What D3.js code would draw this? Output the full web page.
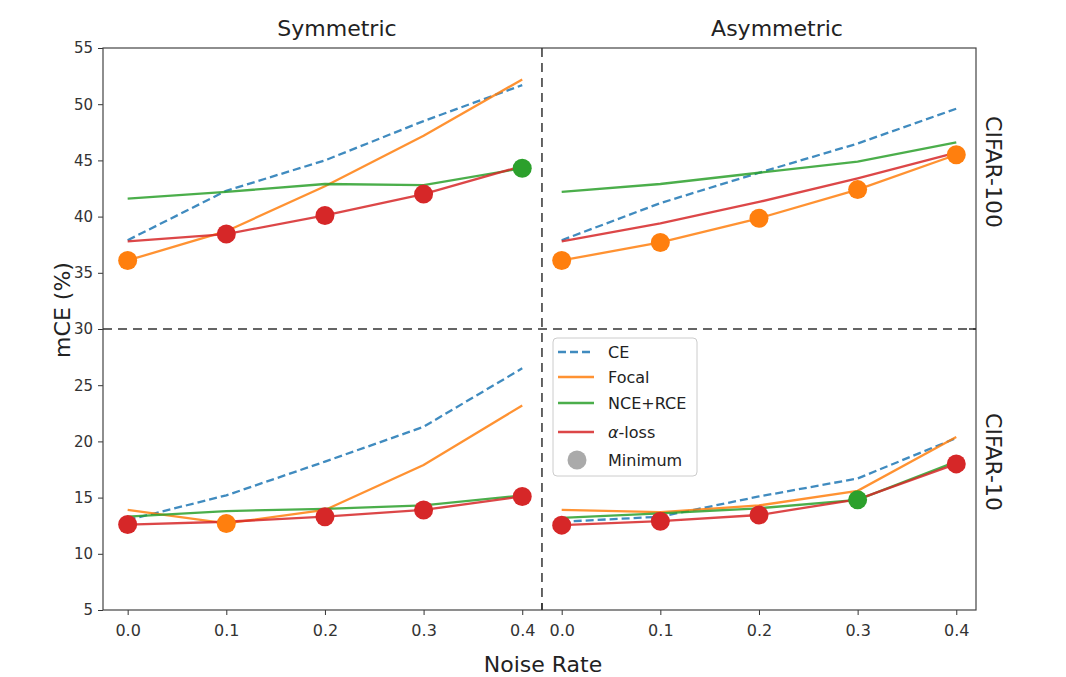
<!DOCTYPE html>
<html>
<head>
<meta charset="utf-8">
<script src="https://cdn.jsdelivr.net/npm/d3@7"></script>
<style>
  body { margin: 0; background: #fff; }
  svg { font-family: "DejaVu Sans", sans-serif; }
</style>
</head>
<body>
<svg id="chart" width="1066" height="677"></svg>
<script>
// noise rates shown on each half of the x axis
var noiseRates = [0.0, 0.1, 0.2, 0.3, 0.4];
var lossNames = ["CE", "Focal", "NCE+RCE", "alpha"];
var yTicks = [5, 10, 15, 20, 25, 30, 35, 40, 45, 50, 55];

// CIFAR-100, symmetric noise
var ceSym100    = [37.9, 42.3, 45.0, 48.5, 51.7];
var focalSym100 = [36.1, 38.7, 42.7, 47.2, 52.2];
var nceSym100   = [41.6, 42.2, 42.9, 42.8, 44.3];
var alphaSym100 = [37.8, 38.45, 40.1, 42.0, 44.5];

// CIFAR-100, asymmetric noise
var ceAsym100    = [37.9, 41.2, 43.9, 46.5, 49.6];
var focalAsym100 = [36.1, 37.7, 39.85, 42.4, 45.5];
var nceAsym100   = [42.2, 42.9, 43.9, 44.9, 46.6];
var alphaAsym100 = [37.8, 39.4, 41.3, 43.4, 45.7];

// CIFAR-10, symmetric noise
var ceSym10    = [13.0, 15.2, 18.2, 21.3, 26.5];
var focalSym10 = [13.9, 12.7, 13.9, 17.9, 23.2];
var nceSym10   = [13.3, 13.8, 14.0, 14.3, 15.2];
var alphaSym10 = [12.6, 12.85, 13.3, 13.9, 15.1];

// CIFAR-10, asymmetric noise
var ceAsym10    = [12.85, 13.3, 15.1, 16.7, 20.3];
var focalAsym10 = [13.9, 13.7, 14.3, 15.6, 20.4];
var nceAsym10   = [13.2, 13.6, 14.05, 14.8, 18.2];
var alphaAsym10 = [12.55, 12.9, 13.45, 14.85, 18.0];

var colors = {"CE": "#1f77b4", "Focal": "#ff7f0e", "NCE+RCE": "#2ca02c", "alpha": "#d62728"};

// offset of the asymmetric half on the shared x axis
var shift = 0.44;

var panels = [
    {off: 0,     series: [ceSym100, focalSym100, nceSym100, alphaSym100]},
    {off: shift, series: [ceAsym100, focalAsym100, nceAsym100, alphaAsym100]},
    {off: 0,     series: [ceSym10, focalSym10, nceSym10, alphaSym10]},
    {off: shift, series: [ceAsym10, focalAsym10, nceAsym10, alphaAsym10]}
];

var pLeft = 103, pRight = 976, pTop = 48, pBottom = 610;
var svg = d3.select("#chart");

var x = d3.scaleLinear().domain([-0.025, 0.86]).range([pLeft, pRight]);
var y = d3.scaleLinear().domain([5, 55]).range([pBottom, pTop]);

// axes
var xTickVals = noiseRates.concat(noiseRates.map(function(v) { return v + shift; }));
var xAxis = svg.append("g")
    .attr("transform", "translate(0," + pBottom + ")")
    .call(d3.axisBottom(x).tickValues(xTickVals).tickSize(5).tickPadding(10)
        .tickFormat(function(v) { return (v >= shift - 1e-9 ? v - shift : v).toFixed(1); }));
xAxis.select(".domain").remove();
xAxis.selectAll("text").attr("font-size", 16).attr("fill", "#333").attr("font-family", "DejaVu Sans");
xAxis.selectAll("line").attr("stroke", "#333");

var yAxis = svg.append("g")
    .attr("transform", "translate(" + pLeft + ",0)")
    .call(d3.axisLeft(y).tickValues(yTicks).tickSize(5).tickPadding(5));
yAxis.select(".domain").remove();
yAxis.selectAll("text").attr("font-size", 15).attr("fill", "#333").attr("font-family", "DejaVu Sans");
yAxis.selectAll("line").attr("stroke", "#333");

// frame
svg.append("rect")
    .attr("x", pLeft).attr("y", pTop)
    .attr("width", pRight - pLeft).attr("height", pBottom - pTop)
    .attr("fill", "none").attr("stroke", "#444").attr("stroke-width", 1.2);

// dashed dividers
svg.append("line")
    .attr("x1", pLeft).attr("x2", pRight)
    .attr("y1", y(30)).attr("y2", y(30))
    .attr("stroke", "#333").attr("stroke-width", 1.5).attr("stroke-dasharray", "9,6");
svg.append("line")
    .attr("x1", x(0.42)).attr("x2", x(0.42))
    .attr("y1", pTop).attr("y2", pBottom)
    .attr("stroke", "#333").attr("stroke-width", 1.5).attr("stroke-dasharray", "9,6");
svg.append("line")
    .attr("x1", pRight - 7).attr("x2", pRight).attr("y1", y(30)).attr("y2", y(30))
    .attr("stroke", "#333").attr("stroke-width", 1.5);
svg.append("line")
    .attr("x1", x(0.42)).attr("x2", x(0.42)).attr("y1", pBottom - 7).attr("y2", pBottom)
    .attr("stroke", "#333").attr("stroke-width", 1.5);

// loss curves
var line = d3.line()
    .x(function(d) { return x(d.x); })
    .y(function(d) { return y(d.y); });

panels.forEach(function(p) {
    p.series.forEach(function(vals, k) {
        var pts = vals.map(function(v, i) { return {x: noiseRates[i] + p.off, y: v}; });
        svg.append("path")
            .datum(pts)
            .attr("d", line)
            .attr("fill", "none")
            .attr("stroke", colors[lossNames[k]])
            .attr("stroke-width", 2.3)
            .attr("stroke-opacity", 0.85)
            .attr("stroke-dasharray", k == 0 ? "8,4" : null);
    });
});

// minimum markers
panels.forEach(function(p) {
    var mins = noiseRates.map(function(r, i) {
        var best = 0;
        p.series.forEach(function(vals, k) { if (vals[i] < p.series[best][i]) best = k; });
        return {x: r + p.off, y: p.series[best][i], k: best};
    });
    svg.selectAll(null)
        .data(mins)
        .enter()
        .append("circle")
        .attr("cx", function(d) { return x(d.x); })
        .attr("cy", function(d) { return y(d.y); })
        .attr("r", 9.5)
        .attr("fill", function(d) { return colors[lossNames[d.k]]; });
});

// titles and labels
svg.append("text").attr("x", 337).attr("y", 36).attr("text-anchor", "middle")
    .attr("font-size", 22).attr("fill", "#222").text("Symmetric");
svg.append("text").attr("x", 777).attr("y", 36).attr("text-anchor", "middle")
    .attr("font-size", 22).attr("fill", "#222").text("Asymmetric");
svg.append("text").attr("x", 543).attr("y", 672).attr("text-anchor", "middle")
    .attr("font-size", 22).attr("fill", "#222").text("Noise Rate");
svg.append("text").attr("transform", "translate(70,310) rotate(-90)").attr("text-anchor", "middle")
    .attr("font-size", 22).attr("fill", "#222").text("mCE (%)");
svg.append("text").attr("transform", "translate(986,172) rotate(90)").attr("text-anchor", "middle")
    .attr("font-size", 22).attr("fill", "#222").text("CIFAR-100");
svg.append("text").attr("transform", "translate(986,462) rotate(90)").attr("text-anchor", "middle")
    .attr("font-size", 22).attr("fill", "#222").text("CIFAR-10");

// legend
var lg = svg.append("g");
lg.append("rect")
    .attr("x", 553).attr("y", 338).attr("width", 144).attr("height", 138)
    .attr("rx", 4).attr("fill", "#fff").attr("fill-opacity", 0.85)
    .attr("stroke", "#ccc");
var rowY = [352, 377, 403, 432];
lossNames.forEach(function(name, k) {
    lg.append("line")
        .attr("x1", 558).attr("x2", 594).attr("y1", rowY[k]).attr("y2", rowY[k])
        .attr("stroke", colors[name]).attr("stroke-width", 2.3).attr("stroke-opacity", 0.85)
        .attr("stroke-dasharray", k == 0 ? "8,4" : null);
    var t = lg.append("text").attr("x", 608).attr("y", rowY[k]).attr("dy", "0.35em")
        .attr("font-size", 16).attr("fill", "#222");
    if (name == "alpha") {
        t.append("tspan").attr("font-style", "italic").text("α");
        t.append("tspan").text("-loss");
    } else {
        t.text(name);
    }
});
lg.append("circle").attr("cx", 577).attr("cy", 460).attr("r", 9.5).attr("fill", "#aaa");
lg.append("text").attr("x", 608).attr("y", 460).attr("dy", "0.35em")
    .attr("font-size", 16).attr("fill", "#222").text("Minimum");
</script>
</body>
</html>
